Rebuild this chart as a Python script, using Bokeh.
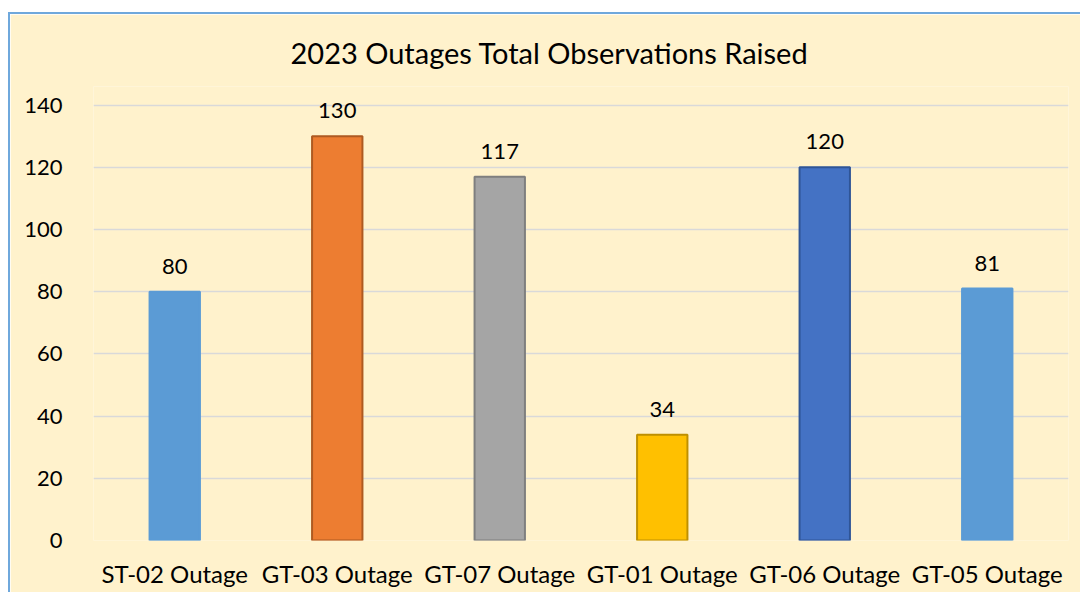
from bokeh.plotting import figure
from bokeh.models import ColumnDataSource, Title, FixedTicker
from bokeh.embed import file_html
from bokeh.resources import INLINE
from bokeh.core.properties import value

categories = ["ST-02 Outage", "GT-03 Outage", "GT-07 Outage", "GT-01 Outage", "GT-06 Outage", "GT-05 Outage"]
observations = [80, 130, 117, 34, 120, 81]
fill_colors = ["#5B9BD5", "#ED7D31", "#A5A5A5", "#FFC000", "#4472C4", "#5B9BD5"]
line_colors = ["#5B9BD5", "#AE5A21", "#7F7F7F", "#BF9000", "#2F5597", "#5B9BD5"]
y_ticks = [0, 20, 40, 60, 80, 100, 120, 140]
title_text = "2023 Outages Total Observations Raised"

FONT = "Lato"
CREAM = "#FFF2CC"

src = ColumnDataSource(dict(
    cat=categories, val=observations, fill=fill_colors, line=line_colors,
    lbl=[str(v) for v in observations],
))

p = figure(
    x_range=categories, y_range=(0, 146),
    width=1072, height=580,
    output_backend="svg", toolbar_location=None,
    min_border_left=83, min_border_right=14, min_border_top=72, min_border_bottom=54,
    background_fill_color=CREAM, border_fill_color=CREAM,
    outline_line_color=None,
    margin=(12, 0, 0, 8),
    styles={"border-left": "2px solid #6FA8DC", "border-top": "2px solid #6FA8DC"},
)

t = Title(text=title_text, align="left", offset=197, standoff=33,
          text_font=FONT, text_font_size="29px", text_font_style="normal",
          text_color="#000000")
p.add_layout(t, "above")

p.vbar(x="cat", top="val", width=0.31, bottom=0, source=src,
       fill_color="fill", line_color="line", line_width=2)

p.text(x="cat", y="val", text="lbl", source=src,
       text_align="center", text_baseline="bottom", y_offset=-18,
       text_font=value(FONT), text_font_size="22px", text_color="#000000")

p.xgrid.grid_line_color = None
p.ygrid.grid_line_color = "#D9D9D9"
p.ygrid.grid_line_width = 1.5
p.yaxis.ticker = FixedTicker(ticks=y_ticks)

for ax in (p.xaxis[0], p.yaxis[0]):
    ax.axis_line_color = None
    ax.major_tick_line_color = None
    ax.minor_tick_line_color = None
    ax.major_label_text_font = FONT
    ax.major_label_text_color = "#000000"

p.yaxis.major_label_text_font_size = "22px"
p.xaxis.major_label_text_font_size = "24px"
p.yaxis.major_label_standoff = 25
p.xaxis.major_label_standoff = 12

open("out.html", "w").write(file_html(p, INLINE))
